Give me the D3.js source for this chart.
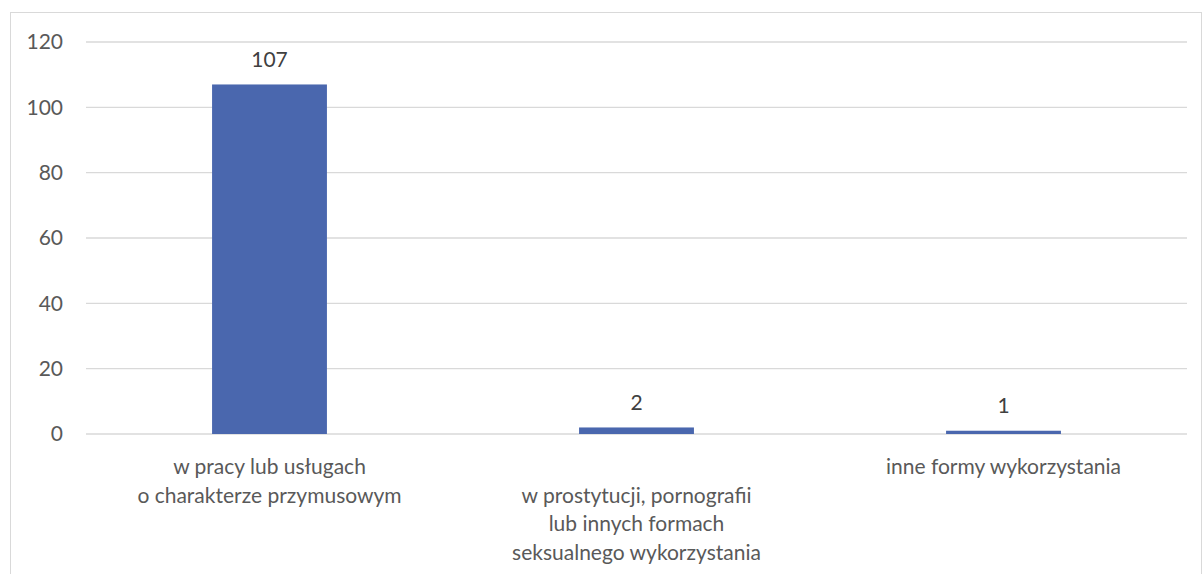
<!DOCTYPE html>
<html>
<head>
<meta charset="utf-8">
<script src="https://cdn.jsdelivr.net/npm/d3@7"></script>
<style>
html,body{margin:0;padding:0;background:#fff;}
svg{display:block;}
</style>
</head>
<body>
<svg id="chart" width="1203" height="574"></svg>
<script>
const categories = [
  ["w pracy lub usługach", "o charakterze przymusowym"],
  ["w prostytucji, pornografii", "lub innych formach", "seksualnego wykorzystania"],
  ["inne formy wykorzystania"]
];
const values = [107, 2, 1];
const yTicks = [0, 20, 40, 60, 80, 100, 120];

(function () {
const svg = d3.select("#chart");
const font = "Lato, 'Open Sans', sans-serif";
const fs = 21;

// outer border
svg.append("rect").attr("x", 10.5).attr("y", 12.5).attr("width", 1191).attr("height", 600)
  .attr("fill", "none").attr("stroke", "#d9d9d9").attr("stroke-width", 1);

const mLeft = 86, mRight = 1187, mTop = 42, mBottom = 434;
const x = d3.scaleBand().domain(d3.range(categories.length)).range([mLeft, mRight]).paddingInner(0.687).paddingOuter(0.3435);
const y = d3.scaleLinear().domain([0, 120]).range([mBottom, mTop]);

// gridlines
svg.append("g").selectAll("line").data(yTicks).join("line")
  .attr("x1", mLeft).attr("x2", mRight)
  .attr("y1", d => y(d)).attr("y2", d => y(d))
  .attr("stroke", "#d9d9d9").attr("stroke-width", 1.3);

// y axis labels
const yAxis = d3.axisLeft(y).tickValues(yTicks).tickSize(0).tickPadding(0);
const ga = svg.append("g").attr("transform", `translate(${63},0)`).call(yAxis);
ga.select(".domain").remove();
ga.selectAll("text").attr("font-family", font).attr("font-size", fs).attr("fill", "#595959");

// bars
svg.append("g").selectAll("rect").data(values).join("rect")
  .attr("x", (d, i) => x(i)).attr("width", x.bandwidth())
  .attr("y", d => y(d)).attr("height", d => y(0) - y(d))
  .attr("fill", "#4a67ae");

// data labels
svg.append("g").selectAll("text").data(values).join("text")
  .attr("x", (d, i) => x(i) + x.bandwidth() / 2)
  .attr("y", d => y(d) - 25)
  .attr("dy", "0.35em")
  .attr("text-anchor", "middle")
  .attr("font-family", font).attr("font-size", fs).attr("fill", "#404040")
  .text(d => d);

// category labels (middle one staggered down by one line, as in reference)
const lineH = 28.5;
const cg = svg.append("g");
categories.forEach((lines, i) => {
  const shift = (i % 2 === 1) ? 1 : 0;
  lines.forEach((t, j) => {
    cg.append("text")
      .attr("x", x(i) + x.bandwidth() / 2)
      .attr("y", 467 + (j + shift) * lineH)
      .attr("dy", "0.35em")
      .attr("text-anchor", "middle")
      .attr("font-family", font).attr("font-size", fs).attr("fill", "#595959")
      .text(t);
  });
});
})();
</script>
</body>
</html>
